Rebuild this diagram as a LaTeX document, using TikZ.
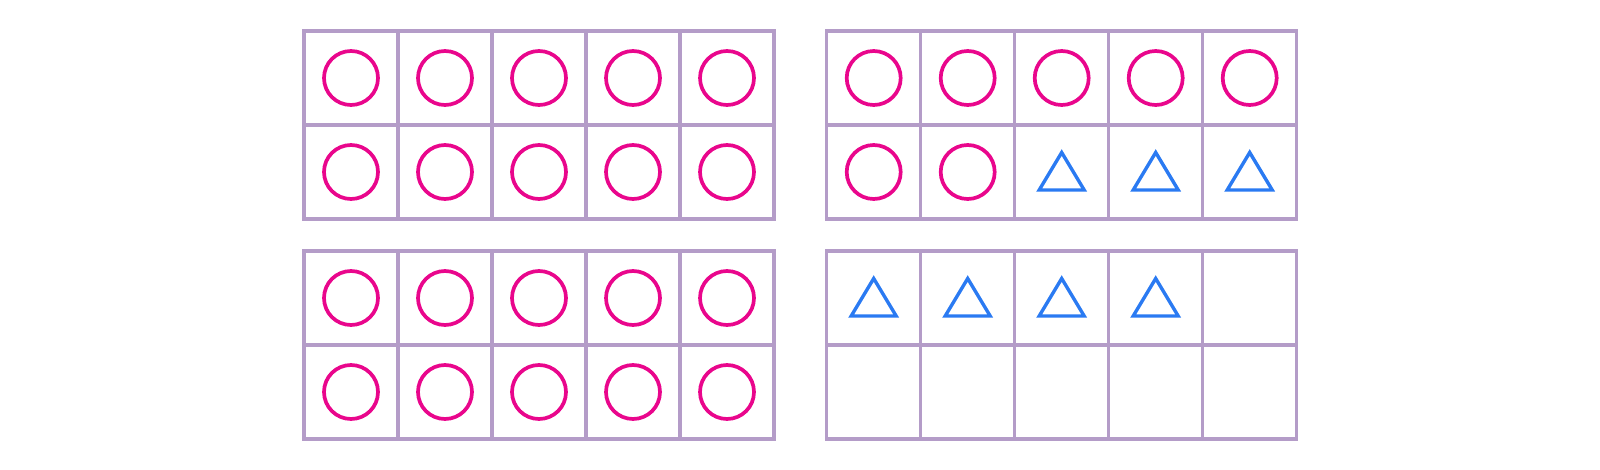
\documentclass[tikz,border=0pt]{standalone}
\usetikzlibrary{calc}
\definecolor{frame}{HTML}{B49CC8}
\definecolor{rose}{HTML}{E9068C}
\definecolor{azure}{HTML}{2A7AF2}
\tikzset{gridline/.style={draw=frame,line width=3.4pt},
  ringmark/.style={draw=rose,line width=3.7pt},
  trimark/.style={draw=azure,line width=3.4pt,line join=miter}}

\begin{document}
\begin{tikzpicture}[x=1pt,y=-1pt]
\useasboundingbox (0,0) rectangle (1600,470);
% four ten-frames: corner x/y, circles, triangles
\foreach \ox/\oy/\nr/\nt in {304/31/10/0, 826.7/31/7/3, 304/251/10/0, 826.7/251/0/4} {
  \draw[gridline] (\ox,\oy) rectangle ++(470,188);
  \foreach \i in {1,...,4} \draw[gridline] (\ox+\i*94,\oy) -- ++(0,188);
  \draw[gridline] (\ox,\oy+94) -- ++(470,0);
  \pgfmathtruncatemacro\lim{\nr+\nt}
  \foreach \k in {1,...,10} {
    \pgfmathtruncatemacro\col{mod(\k-1,5)}
    \pgfmathtruncatemacro\row{div(\k-1,5)}
    \coordinate (cell) at (\ox+47+\col*94,\oy+47+\row*94);
    \ifnum\k>\nr
      \ifnum\k>\lim\else
        \draw[trimark] ($(cell)+(0,-19.5)$) -- ($(cell)+(22.5,18)$) -- ($(cell)+(-22.5,18)$) -- cycle;
      \fi
    \else
      \draw[ringmark] (cell) circle (27);
    \fi
  }
}
\end{tikzpicture}
\end{document}
